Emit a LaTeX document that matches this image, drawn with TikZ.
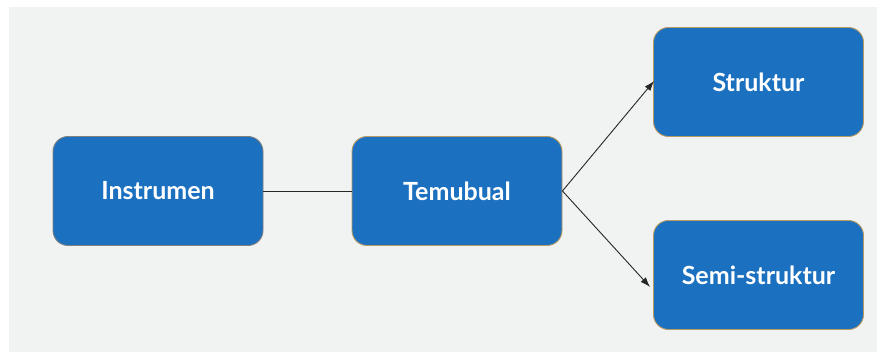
\documentclass[tikz,border=0pt]{standalone}
\usepackage{fontspec}
\setmainfont{Lato}
\usetikzlibrary{arrows.meta}
\definecolor{boxblue}{HTML}{1B70BF}
\definecolor{boxedge}{HTML}{B89A62}
\definecolor{bggray}{HTML}{F1F2F2}
\tikzset{
  box/.style={draw=boxedge, fill=boxblue, rounded corners=15pt,
    minimum width=210pt, minimum height=109pt, text=white,
    font=\fontsize{25}{29}\selectfont\bfseries, inner sep=0pt}
}
\begin{document}
\begin{tikzpicture}[x=1pt,y=1pt,line width=0.9pt]
      \useasboundingbox (0,0) rectangle (877,352);
      \fill[bggray] (9,0) rectangle (877,345);
      \draw
        (158,161) node[box,draw=gray] (0){Instrumen}
        (457,161) node[box] (1){Temubual}
        (758.5,270) node[box] (2){Struktur}
        (758.5,77) node[box] (3){Semi-struktur};
      \begin{scope}[-,draw=black!85]
        \draw (0) to (1);
      \end{scope}
      \begin{scope}[-{Latex[length=10pt,width=7pt]},draw=black!85]
        \draw (1.east) to ([xshift=1pt,yshift=1pt]2.west);
        \draw (1.east) to ([xshift=-3pt,yshift=-12pt]3.west);
      \end{scope}
    \end{tikzpicture}
\end{document}
